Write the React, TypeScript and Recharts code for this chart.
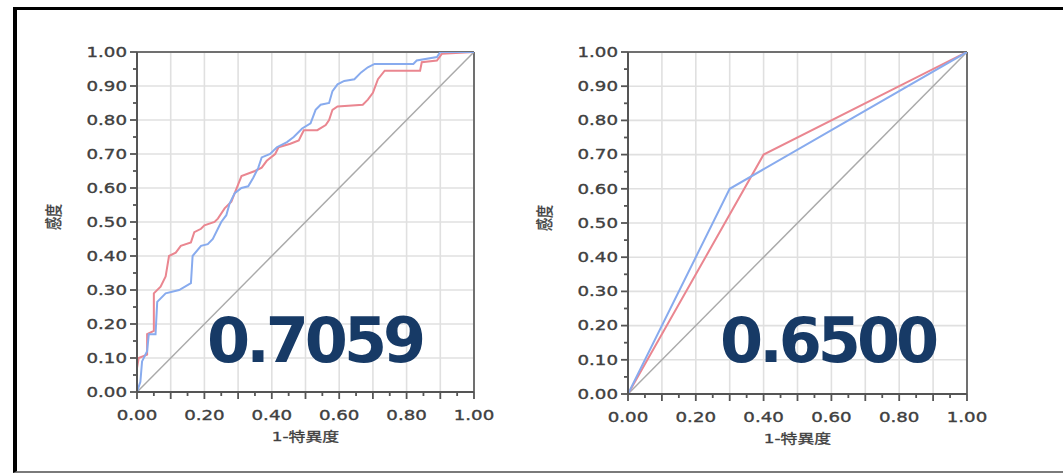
import { CartesianGrid, Line, LineChart, ReferenceLine, XAxis, YAxis } from "recharts";

// axis ticks
const xTickLabels = [0, 0.2, 0.4, 0.6, 0.8, 1];
const yTickLabels = [0, 0.1, 0.2, 0.3, 0.4, 0.5, 0.6, 0.7, 0.8, 0.9, 1];
const minorTicks = [
  0, 0.05, 0.1, 0.15, 0.2, 0.25, 0.3, 0.35, 0.4, 0.45, 0.5,
  0.55, 0.6, 0.65, 0.7, 0.75, 0.8, 0.85, 0.9, 0.95, 1,
];
const gridValues = [0.1, 0.2, 0.3, 0.4, 0.5, 0.6, 0.7, 0.8, 0.9];

// left ROC (AUC 0.7059)
const leftRedX = [
  0, 0, 0.005, 0.03, 0.03, 0.05, 0.05, 0.07, 0.085, 0.095, 0.115, 0.13, 0.16, 0.17, 0.19, 0.2,
  0.23, 0.24, 0.26, 0.28, 0.3, 0.31, 0.35, 0.37, 0.385, 0.41, 0.42, 0.455, 0.48, 0.495, 0.535,
  0.56, 0.57, 0.58, 0.595, 0.67, 0.685, 0.7, 0.715, 0.735, 0.84, 0.845, 0.89, 0.905, 1,
];
const leftRedY = [
  0, 0.07, 0.1, 0.11, 0.17, 0.18, 0.29, 0.31, 0.34, 0.4, 0.41, 0.43, 0.44, 0.47, 0.48, 0.49,
  0.5, 0.51, 0.54, 0.56, 0.61, 0.635, 0.65, 0.66, 0.68, 0.7, 0.72, 0.73, 0.74, 0.77, 0.77,
  0.785, 0.8, 0.83, 0.84, 0.845, 0.86, 0.88, 0.92, 0.945, 0.945, 0.97, 0.975, 0.995, 1,
];
const leftBlueX = [
  0, 0.01, 0.015, 0.03, 0.035, 0.055, 0.06, 0.085, 0.125, 0.16, 0.165, 0.19, 0.21, 0.225, 0.24,
  0.25, 0.265, 0.275, 0.29, 0.31, 0.33, 0.345, 0.36, 0.37, 0.395, 0.415, 0.445, 0.465, 0.49,
  0.515, 0.53, 0.545, 0.57, 0.58, 0.595, 0.615, 0.645, 0.665, 0.685, 0.705, 0.82, 0.83, 0.89,
  0.9, 1,
];
const leftBlueY = [
  0, 0.03, 0.09, 0.12, 0.17, 0.17, 0.265, 0.29, 0.3, 0.32, 0.4, 0.43, 0.435, 0.45, 0.48,
  0.5, 0.52, 0.555, 0.585, 0.6, 0.605, 0.63, 0.66, 0.69, 0.7, 0.72, 0.735, 0.75, 0.775,
  0.79, 0.83, 0.845, 0.85, 0.885, 0.905, 0.915, 0.92, 0.94, 0.955, 0.965, 0.965, 0.975, 0.985,
  1, 1,
];

// right ROC (AUC 0.6500)
const rightRedX = [0, 0.4, 1];
const rightRedY = [0, 0.7, 1];
const rightBlueX = [0, 0.3, 1];
const rightBlueY = [0, 0.6, 1];

const diagX = [0, 1];
const diagY = [0, 1];

const toPoints = (xs: number[], ys: number[]) => xs.map((x, i) => ({ x, y: ys[i] }));
const near = (v: number, list: number[]) => list.some((t) => Math.abs(t - v) < 1e-6);

const AXIS = "#555";
const TEXT = "#404040";
const RED = "#ea8690";
const BLUE = "#88abee";

const labelStyle = {
  fontFamily: "DejaVu Sans",
  fontSize: 14,
  fill: TEXT,
  stroke: TEXT,
  strokeWidth: 0.35,
};

function YTick({ x, y, payload }: any) {
  const v = payload.value as number;
  const major = near(v, yTickLabels);
  return (
    <g>
      <line x1={x - (major ? 7 : 4)} x2={x} y1={y} y2={y} stroke={AXIS} strokeWidth={1.8} />
      {major && (
        <text
          transform={`translate(${x - 10} ${y}) scale(1.3 1)`}
          textAnchor="end"
          dominantBaseline="central"
          {...labelStyle}
        >
          {v.toFixed(2)}
        </text>
      )}
    </g>
  );
}

function XTick({ x, y, payload }: any) {
  const v = payload.value as number;
  const major = near(v, gridValues) || near(v, [0, 1]);
  return (
    <g>
      <line x1={x} x2={x} y1={y} y2={y + (major ? 7 : 4)} stroke={AXIS} strokeWidth={1.8} />
      {near(v, xTickLabels) && (
        <text
          transform={`translate(${x} ${y + 23}) scale(1.3 1)`}
          textAnchor="middle"
          dominantBaseline="central"
          {...labelStyle}
        >
          {v.toFixed(2)}
        </text>
      )}
    </g>
  );
}

const XLabel = ({ viewBox }: any) => (
  <text
    transform={`translate(${viewBox.x + viewBox.width / 2} ${viewBox.y + 45}) scale(1.3 1)`}
    textAnchor="middle"
    dominantBaseline="central"
    fontFamily="DejaVu Sans, Noto Sans CJK JP"
    fontSize={13}
    fill={TEXT}
    stroke={TEXT}
    strokeWidth={0.3}
  >
    1-特異度
  </text>
);

const YLabel = ({ viewBox }: any) => {
  const cx = viewBox.x + 33;
  const cy = viewBox.y + viewBox.height / 2 - 5;
  return (
    <text
      transform={`translate(${cx} ${cy}) rotate(-90) scale(1 1.3)`}
      textAnchor="middle"
      dominantBaseline="central"
      fontFamily="Noto Sans CJK JP"
      fontSize={13}
      fill={TEXT}
      stroke={TEXT}
      strokeWidth={0.3}
    >
      感度
    </text>
  );
};

function RocChart({ red, blue, left, right, bottom }: any) {
  return (
    <div style={{ position: "absolute", left, top: 20 }}>
      <LineChart width={480} height={440} margin={{ top: 32, right, bottom, left: 0 }}>
        <CartesianGrid horizontalValues={gridValues} verticalValues={gridValues} stroke="#e0e0e0" strokeWidth={1.6} />
        <XAxis
          type="number"
          dataKey="x"
          domain={[0, 1]}
          ticks={minorTicks}
          interval={0}
          tick={(p: any) => <XTick {...p} />}
          tickLine={false}
          tickSize={0}
          tickMargin={0}
          axisLine={{ stroke: AXIS, strokeWidth: 2 }}
          height={40}
          allowDataOverflow
          label={{ content: XLabel }}
        />
        <YAxis
          type="number"
          dataKey="y"
          domain={[0, 1]}
          ticks={minorTicks}
          interval={0}
          tick={(p: any) => <YTick {...p} />}
          tickLine={false}
          tickSize={0}
          tickMargin={0}
          axisLine={{ stroke: AXIS, strokeWidth: 2 }}
          width={117}
          allowDataOverflow
          label={{ content: YLabel }}
        />
        <ReferenceLine y={1} stroke="#707070" strokeWidth={2} />
        <ReferenceLine x={1} stroke="#707070" strokeWidth={2} />
        <Line data={toPoints(diagX, diagY)} dataKey="y" type="linear" stroke="#aaaaaa" strokeWidth={1.5} dot={false} isAnimationActive={false} />
        <Line data={red} dataKey="y" type="linear" stroke={RED} strokeWidth={2} dot={false} isAnimationActive={false} />
        <Line data={blue} dataKey="y" type="linear" stroke={BLUE} strokeWidth={2} dot={false} isAnimationActive={false} />
      </LineChart>
    </div>
  );
}

export default function App() {
  const bigText = {
    fontFamily: "DejaVu Sans",
    fontWeight: "bold" as const,
    fontSize: 62,
    letterSpacing: -4,
    fill: "#173a66",
  };
  return (
    <div style={{ position: "absolute", left: 0, top: 0, width: 1063, height: 476, overflow: "hidden", background: "#fff" }}>
      <div
        style={{
          position: "absolute",
          left: 13,
          top: 7,
          width: 1100,
          height: 461,
          borderLeft: "4px solid #000",
          borderTop: "3px solid #000",
          borderBottom: "2px solid #7a7a7a",
        }}
      />
      <RocChart red={toPoints(leftRedX, leftRedY)} blue={toPoints(leftBlueX, leftBlueY)} left={20} right={26} bottom={28} />
      <RocChart red={toPoints(rightRedX, rightRedY)} blue={toPoints(rightBlueX, rightBlueY)} left={511} right={24} bottom={26} />
      <svg width={1063} height={476} style={{ position: "absolute", left: 0, top: 0, pointerEvents: "none" }}>
        <text x={207} y={362} {...bigText}>0.7059</text>
        <text x={720} y={362} {...bigText}>0.6500</text>
      </svg>
    </div>
  );
}
